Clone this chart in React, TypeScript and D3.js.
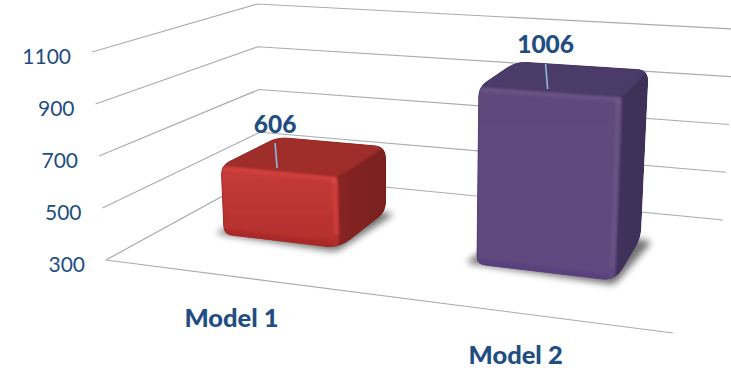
import React from "react";
import * as d3 from "d3";

// Chart content
const categories = ["Model 1", "Model 2"];
const seriesValues = [606, 1006];
const axisTicks = [300, 500, 700, 900, 1100];

const WIDTH = 731;
const HEIGHT = 371;
const FONT = "Lato, 'Open Sans', sans-serif";
const INK = "#1f4e82";

type Pt = [number, number];

// Screen positions of the plot box corners, at the axis floor and ceiling.
const floorCorners = { fl: [106, 260], fr: [673, 333], bl: [261, 175], br: [723, 220] };
const ceilCorners = { fl: [92, 52], fr: [683, 98], bl: [257, 4], br: [735, 29] };

const valueT = d3.scaleLinear().domain([300, 1100]).range([0, 1]);
// Category positions along the front edge of the floor (0..1, before foreshortening).
const bandU = d3.scaleBand<string>().domain(categories).range([-0.1311, 1.1377]).padding(0.52);
const DEPTH_FRONT = 0.38;
const DEPTH_BACK = 0.77;
// The right side of the box is nearer to the viewer, so it is drawn wider.
const FORESHORTEN = 1.2;
// The rounded cap sits slightly under the nominal value plane.
const CAP_DROP = 6;

const mix = (a: number[], b: number[], t: number): Pt => [a[0] + (b[0] - a[0]) * t, a[1] + (b[1] - a[1]) * t];
const warp = (u: number) => u / (u + FORESHORTEN * (1 - u));

// Trilinear projection: u along the category axis, d into the depth, v is the value.
function project(u: number, d: number, v: number): Pt {
  const t = valueT(v);
  const w = warp(u);
  const plane = (c: typeof floorCorners) => mix(mix(c.fl, c.fr, w), mix(c.bl, c.br, w), d);
  return mix(plane(floorCorners), plane(ceilCorners), t);
}

// Closed polygon path with quadratically rounded corners.
function rounded(points: Pt[], radius: number | number[]): string {
  const n = points.length;
  let path = "";
  points.forEach((p, i) => {
    const prev = points[(i + n - 1) % n];
    const next = points[(i + 1) % n];
    const r = Array.isArray(radius) ? radius[i] : radius;
    const d1 = Math.hypot(prev[0] - p[0], prev[1] - p[1]);
    const d2 = Math.hypot(next[0] - p[0], next[1] - p[1]);
    const a: Pt = mix(p, prev, Math.min(r / d1, 0.5));
    const b: Pt = mix(p, next, Math.min(r / d2, 0.5));
    path += `${i === 0 ? "M" : "L"}${a[0]},${a[1]}Q${p[0]},${p[1]} ${b[0]},${b[1]}`;
  });
  return path + "Z";
}

const barPalettes = [
  { front: ["#c63c39", "#b22e2d"], side: ["#8c2623", "#7a201f"], top: "#9f2e29", rim: "#d8443f", base: "#a62726" },
  { front: ["#5f4a7c", "#5e4880"], side: ["#45345f", "#3f3058"], top: "#4c3a69", rim: "#6f5a8a", base: "#5a3c80" },
];

function Bar({ index }: { index: number }) {
  const name = categories[index];
  const value = seriesValues[index];
  const pal = barPalettes[index];
  const u0 = bandU(name) as number;
  const u1 = u0 + bandU.bandwidth();
  const lift = (p: Pt): Pt => [p[0], p[1] + CAP_DROP];

  const fbl = project(u0, DEPTH_FRONT, 300);
  const fbr = project(u1, DEPTH_FRONT, 300);
  const bbr = project(u1, DEPTH_BACK, 300);
  const ftl = lift(project(u0, DEPTH_FRONT, value));
  const ftr = lift(project(u1, DEPTH_FRONT, value));
  const btl = lift(project(u0, DEPTH_BACK, value));
  const btr = lift(project(u1, DEPTH_BACK, value));

  const outline: Pt[] = [fbl, fbr, bbr, btr, btl, ftl];
  const outlinePath = rounded(outline, [9, 14, 10, 12, 11, 10]);
  const clipId = `bar-clip-${index}`;

  const shadow: Pt[] = [
    project(u0 - 0.022, DEPTH_FRONT + 0.005, 300),
    project(u1 + 0.002, DEPTH_FRONT - 0.035, 300),
    project(u1 + 0.022, DEPTH_BACK - 0.01, 300),
    project(u0 + 0.02, DEPTH_BACK, 300),
  ];

  return (
    <g>
      <path d={rounded(shadow, 6)} fill="#000" opacity={0.55} filter="url(#soft-shadow)" />
      <clipPath id={clipId}>
        <path d={outlinePath} />
      </clipPath>
      <g clipPath={`url(#${clipId})`}>
        <path d={outlinePath} fill={`url(#side-${index})`} />
        <path d={rounded([ftl, btl, btr, ftr], 6)} fill={pal.top} filter="url(#soft-edge)" />
        <path d={rounded([ftl, ftr, fbr, fbl], 9)} fill={`url(#front-${index})`} filter="url(#soft-edge)" />
        {/* Bevel highlights along the cap and the front edges */}
        <path
          d={`M${ftl[0]},${ftl[1] + 3}L${ftr[0] - 4},${ftr[1] + 2}L${fbr[0] - 3},${fbr[1] - 14}`}
          fill="none"
          stroke={pal.rim}
          strokeWidth={4}
          opacity={0.7}
          filter="url(#soft-rim)"
        />
        <path
          d={`M${fbl[0]},${fbl[1] - 3}L${fbr[0] - 6},${fbr[1] - 3}`}
          fill="none"
          stroke={pal.base}
          strokeWidth={5}
          opacity={0.8}
          filter="url(#soft-rim)"
        />
        <circle cx={ftr[0] - 4} cy={ftr[1] + 3} r={3.2} fill={pal.rim} filter="url(#soft-rim)" />
      </g>
    </g>
  );
}

function ValueLabel({ index }: { index: number }) {
  const name = categories[index];
  const value = seriesValues[index];
  const uc = (bandU(name) as number) + bandU.bandwidth() / 2;
  const anchor = project(uc, DEPTH_FRONT, value);
  const x = anchor[0] - 1;
  const yEnd = anchor[1] + CAP_DROP - 3;
  const yStart = yEnd - 25;
  return (
    <g>
      <line x1={x - 2} y1={yStart} x2={x} y2={yEnd} stroke="#8db9e0" strokeWidth={1.6} />
      <text
        x={x - 2}
        y={yStart - 10.5}
        textAnchor="middle"
        fontFamily={FONT}
        fontWeight={900}
        fontSize={24.5}
        fill={INK}
      >
        {value}
      </text>
    </g>
  );
}

export default function App() {
  return (
    <svg
      width={WIDTH}
      height={HEIGHT}
      viewBox={`0 0 ${WIDTH} ${HEIGHT}`}
      style={{ position: "absolute", left: 0, top: 0, display: "block" }}
    >
      <defs>
        <filter id="soft-shadow" x="-30%" y="-30%" width="160%" height="160%">
          <feGaussianBlur stdDeviation={3.5} />
        </filter>
        <filter id="soft-edge" x="-10%" y="-10%" width="120%" height="120%">
          <feGaussianBlur stdDeviation={1.3} />
        </filter>
        <filter id="soft-rim" x="-20%" y="-20%" width="140%" height="140%">
          <feGaussianBlur stdDeviation={1.8} />
        </filter>
        {barPalettes.map((pal, i) => (
          <React.Fragment key={i}>
            <linearGradient id={`front-${i}`} x1="0" y1="0" x2="0" y2="1">
              <stop offset="0%" stopColor={pal.front[0]} />
              <stop offset="100%" stopColor={pal.front[1]} />
            </linearGradient>
            <linearGradient id={`side-${i}`} x1="0" y1="0" x2="1" y2="0">
              <stop offset="55%" stopColor={pal.side[0]} />
              <stop offset="100%" stopColor={pal.side[1]} />
            </linearGradient>
          </React.Fragment>
        ))}
      </defs>

      {/* Side wall, back wall and floor grid */}
      <g fill="none" stroke="#a8adb3" strokeWidth={1.2}>
        {axisTicks.map((tick) => {
          const a = project(0, 0, tick);
          const b = project(0, 1, tick);
          const c = project(1, 1, tick);
          return <path key={tick} d={`M${a[0]},${a[1]}L${b[0]},${b[1]}L${c[0]},${c[1]}`} />;
        })}
        <path d={d3.line()([project(0, 0, 300), project(1, 0, 300)]) as string} />
      </g>

      {/* Value axis labels */}
      <g fontFamily={FONT} fontSize={21} fill={INK} textAnchor="end">
        {axisTicks.map((tick) => {
          const a = project(0, 0, tick);
          return (
            <text key={tick} x={a[0] - 21} y={a[1] + 11.5}>
              {tick}
            </text>
          );
        })}
      </g>

      {categories.map((_, i) => (
        <Bar key={i} index={i} />
      ))}
      {categories.map((_, i) => (
        <ValueLabel key={i} index={i} />
      ))}

      {/* Category labels follow the slant of the front floor edge */}
      <g fontFamily={FONT} fontWeight={900} fontSize={25.5} fill={INK} textAnchor="middle">
        {categories.map((name) => {
          const uc = (bandU(name) as number) + bandU.bandwidth() / 2;
          const p = project(uc, 0, 300);
          return (
            <text key={name} x={p[0] + 1.5} y={p[1] + 51}>
              {name}
            </text>
          );
        })}
      </g>
    </svg>
  );
}
